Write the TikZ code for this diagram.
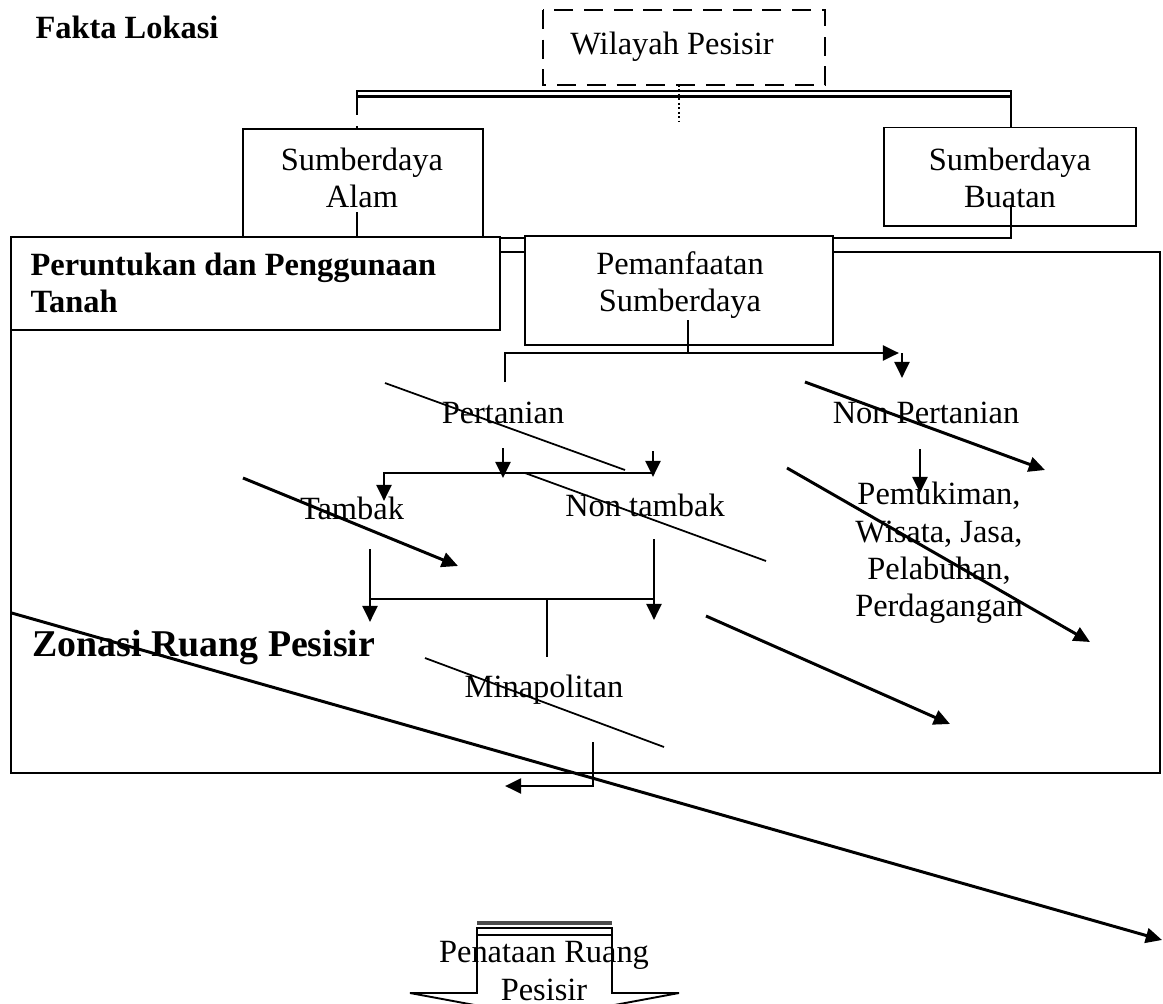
\documentclass[tikz,border=0pt]{standalone}
\usepackage{fontspec}
\setmainfont{Liberation Serif}
\usetikzlibrary{arrows.meta}

\begin{document}
\begin{tikzpicture}[x=0.37pt,y=-0.37pt,
		>={Triangle[length=6pt,width=5.5pt]},
		box/.style={draw,line width=0.7pt},
		txt/.style={inner sep=0pt,align=center,font=\fontsize{12}{13.8}\selectfont},
		bold/.style={inner sep=0pt,align=left,font=\fontsize{12}{13.8}\selectfont\bfseries},
		thin/.style={line width=0.65pt},
		fat/.style={line width=1.1pt}]
			%		\draw[dashed] (0,0) grid[step=100] (1163,1004);
			\useasboundingbox (0,0) rectangle (1163,1004);
			\node[bold,anchor=west] (fakta) at (35,27) {Fakta Lokasi};
			% wilayah pesisir
			\draw[box,dash pattern=on 7pt off 4pt] (543,10) rectangle (825,85);
			\node[txt] (wilayah) at (672,47) {Wilayah Pesisir};
			\coordinate (w1) at (679,85);
			\coordinate (w2) at (679,122);
			\draw[thin,densely dotted] (w1)--(w2);
			\coordinate (dl) at (357,91);
			\coordinate (dr) at (1011,91);
			\draw[thin] (357,96.5)--(dl)--(dr)--(1011,127.5);
			\draw[line width=0.9pt] (357,96.5)--(1011,96.5);
			\draw[thin,dash pattern=on 7pt off 4pt] (357,96.5)--(357,129);
			% sumberdaya
			\draw[box] (243,129) rectangle (483,237);
			\node[txt] (alam) at (362,178) {Sumberdaya\\Alam};
			\draw[box] (884,127.5) rectangle (1136,226);
			\node[txt] (buatan) at (1010,178) {Sumberdaya\\Buatan};
			\coordinate (a) at (357,212);
			\coordinate (b) at (1011,205);
			\draw[fat] (a)--(357,238)--(1011,238)--(b);
			% bingkai
			\draw[box] (10.7,251.7) rectangle (1160,773);
			\draw[box,fill=white] (10.7,237) rectangle (500,330);
			\node[bold,anchor=west] (tanah) at (30,283) {Peruntukan dan Penggunaan\\Tanah};
			\draw[box,fill=white] (525,236) rectangle (833,345);
			\node[txt] (manfaat) at (680,285) {Pemanfaatan\\Sumberdaya};
			\coordinate (m) at (688,320);
			\draw[thin] (m)--(688,353);
			\coordinate (p0) at (505,382);
			\coordinate (p1) at (899,353);
			\draw[fat,->] (p0)--(505,353)--(p1);
			\draw[fat,->] (902,353)--(902,378);
			% pertanian
			\node[txt] (tani) at (503,413) {Pertanian};
			\draw[thin] (385,383)--(625,470);
			\node[txt] (nontani) at (926,413) {Non Pertanian};
			\draw[fat,->] (805,382)--(1045,470);
			\draw[fat,->] (920,449)--(920,493);
			\node[txt] (mukim) at (939,553) {Pemukiman,\\Wisata, Jasa,\\Pelabuhan,\\Perdagangan};
			\draw[fat,->] (787,468)--(1090,642);
			\draw[fat,->] (706,616)--(950,724);
			\draw[fat,->] (503,448)--(503,478);
			\draw[fat,->] (653,451)--(653,477);
			\draw[fat,->] (653,473)--(384,473)--(384,501);
			\draw[thin] (525,473)--(766,561);
			% tambak
			\node[txt] (tambak) at (352,508) {Tambak};
			\node[txt] (nontambak) at (645,505) {Non tambak};
			\draw[fat,->] (243,478)--(458,566);
			\draw[fat,->] (370,549)--(370,622);
			\draw[line width=0.9pt] (370,599)--(654,599);
			\draw[fat,->] (654,539)--(654,620);
			\draw[thin] (547,599)--(547,657);
			% zonasi
			\node[inner sep=0pt,anchor=west,font=\fontsize{14}{16}\selectfont\bfseries] (zonasi) at (32,648) {Zonasi Ruang Pesisir};
			\draw[fat,->] (11.7,613)--(1162,940);
			\node[txt] (mina) at (544,690) {Minapolitan};
			\draw[thin] (425,658)--(664,747);
			\draw[fat,->] (593,742)--(593,786)--(505,786);
			% penataan
			\fill[gray!60!black] (477,920.7) rectangle (612,925);
			\draw[thin] (477,928) rectangle (612,935);
			\draw[box] (477,935)--(477,993)--(410,993)--(544.5,1018)--(679,993)--(612,993)--(612,935);
			\node[txt] (tata) at (544,971) {Penataan Ruang\\Pesisir};
		\end{tikzpicture}
\end{document}
